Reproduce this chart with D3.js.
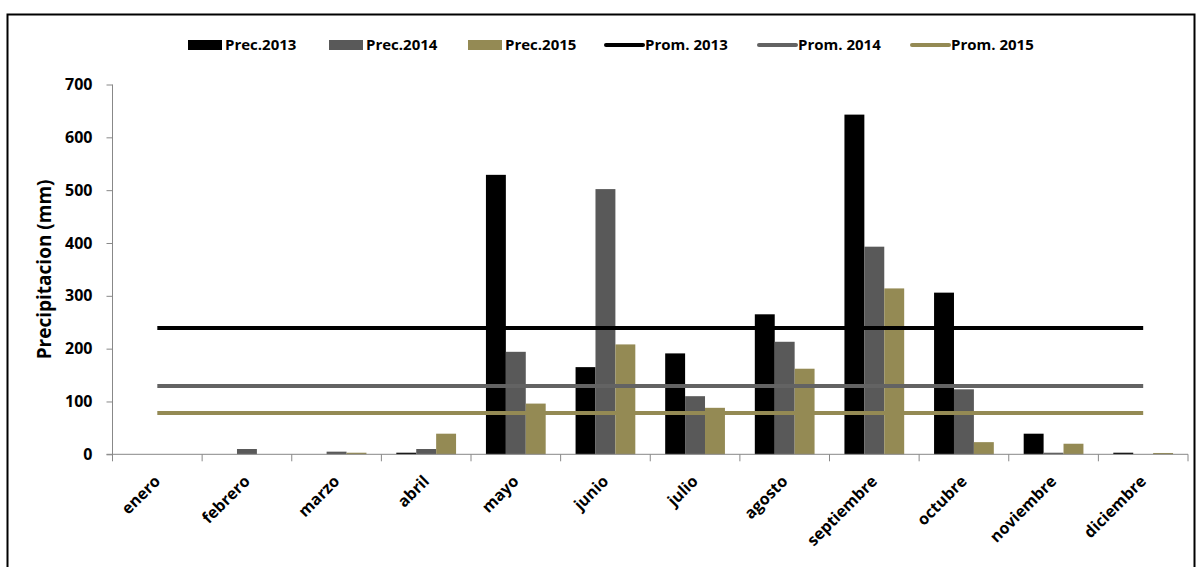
<!DOCTYPE html>
<html>
<head>
<meta charset="utf-8">
<script src="https://cdn.jsdelivr.net/npm/d3@7"></script>
<style>
body{margin:0;background:#fff;}
svg{display:block;font-family:"Open Sans",Lato,sans-serif;}
</style>
</head>
<body>
<svg id="chart" width="1196" height="567"></svg>
<script>
const months = ["enero","febrero","marzo","abril","mayo","junio","julio","agosto","septiembre","octubre","noviembre","diciembre"];
const prec2013 = [0, 0, 0, 3, 529, 165, 191, 265, 643, 306, 39, 3];
const prec2014 = [0, 10, 5, 10, 194, 502, 110, 213, 393, 123, 3, 0];
const prec2015 = [0, 0, 3, 39, 96, 208, 88, 162, 314, 23, 20, 2.5];
const prom2013 = 239;
const prom2014 = 129.5;
const prom2015 = 78;
const yTicks = [0,100,200,300,400,500,600,700];
const seriesNames = ["Prec.2013","Prec.2014","Prec.2015"];
const promNames = ["Prom. 2013","Prom. 2014","Prom. 2015"];
const colors = ["#000000","#595959","#948A54"];
const lineColors = ["#000000","#636363","#948A54"];

(function(){
const svg = d3.select("#chart");
const pLeft = 112.5, pRight = 1188, pTop = 84.5, pBottom = 454.3;

// outer frame
svg.append("rect").attr("x",7.5).attr("y",14.5).attr("width",1187).attr("height",620)
  .attr("fill","none").attr("stroke","#000").attr("stroke-width",2);

const x = d3.scaleBand().domain(months).range([pLeft,pRight]).paddingInner(0).paddingOuter(0);
const x1 = d3.scaleBand().domain(seriesNames).range([0,x.bandwidth()]).paddingInner(0).paddingOuter(0.75);
const y = d3.scaleLinear().domain([0,700]).range([pBottom,pTop]);

// bars
const allPrec = [prec2013,prec2014,prec2015];
allPrec.forEach((arr,si)=>{
  svg.append("g").selectAll("rect").data(arr).join("rect")
    .attr("x",(d,i)=>x(months[i])+x1(seriesNames[si]))
    .attr("width",x1.bandwidth())
    .attr("y",d=>y(d))
    .attr("height",d=>pBottom-y(d))
    .attr("fill",colors[si]);
});

// average lines
const proms = [prom2013,prom2014,prom2015];
const line = d3.line().x(d=>d[0]).y(d=>d[1]);
proms.forEach((p,si)=>{
  const pts = [[x(months[0])+x.bandwidth()/2, y(p)],[x(months[11])+x.bandwidth()/2, y(p)]];
  svg.append("path").attr("d",line(pts)).attr("stroke",lineColors[si])
    .attr("stroke-width",4).attr("fill","none");
});

// y axis
const yAxis = d3.axisLeft(y).tickValues(yTicks).tickSize(6).tickSizeOuter(0).tickPadding(14);
const gy = svg.append("g").attr("transform",`translate(${pLeft},0)`).call(yAxis);
gy.select(".domain").attr("stroke","#888").attr("d",`M0,${pTop}V${pBottom+7}`);
gy.selectAll(".tick line").attr("stroke","#888");
gy.selectAll(".tick text").attr("font-size",16).attr("font-weight","bold").attr("fill","#000")
  .attr("font-family","'Open Sans', sans-serif");

// x axis
const gx = svg.append("g").attr("transform",`translate(0,${pBottom})`);
gx.append("line").attr("x1",pLeft-6).attr("x2",pRight).attr("y1",0).attr("y2",0).attr("stroke","#888");
const bounds = months.map(m=>x(m)+x.bandwidth());
gx.selectAll("line.tk").data(bounds).join("line").attr("class","tk")
  .attr("x1",d=>d).attr("x2",d=>d).attr("y1",0).attr("y2",7).attr("stroke","#888");
gx.selectAll("text").data(months).join("text")
  .attr("transform",d=>`translate(${x(d)+x.bandwidth()/2+4},${28}) rotate(-45)`)
  .attr("text-anchor","end")
  .attr("font-size",16).attr("font-weight","bold").text(d=>d);

// y title
svg.append("text").attr("transform",`translate(51,${(pTop+pBottom)/2}) rotate(-90)`)
  .attr("text-anchor","middle").attr("font-size",19).attr("font-weight","bold").text("Precipitacion (mm)");

// legend
const legY = 45;
const legPrecX = [188,329,468];
seriesNames.forEach((n,i)=>{
  svg.append("rect").attr("x",legPrecX[i]).attr("y",legY-5).attr("width",34).attr("height",10).attr("fill",colors[i]);
  svg.append("text").attr("x",legPrecX[i]+37).attr("y",legY).attr("dy","0.35em")
    .attr("font-size",15).attr("font-weight","bold").text(n);
});
const legPromX = [606,759,912];
promNames.forEach((n,i)=>{
  svg.append("line").attr("x1",legPromX[i]).attr("x2",legPromX[i]+37).attr("y1",legY).attr("y2",legY)
    .attr("stroke",lineColors[i]).attr("stroke-width",4).attr("stroke-linecap","round");
  svg.append("text").attr("x",legPromX[i]+39).attr("y",legY).attr("dy","0.35em")
    .attr("font-size",15).attr("font-weight","bold").text(n);
});
})();
</script>
</body>
</html>
